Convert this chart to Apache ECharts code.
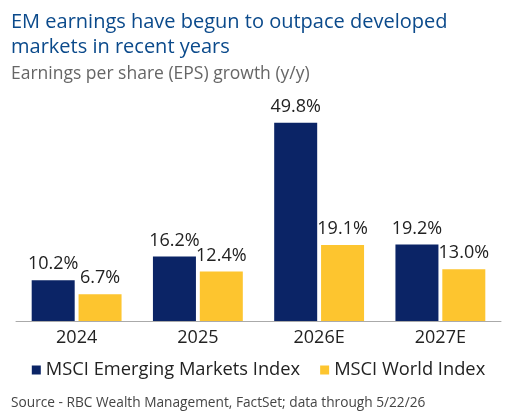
<!DOCTYPE html>
<html><head><meta charset="utf-8">
<script src="https://cdn.jsdelivr.net/npm/echarts@6/dist/echarts.min.js"></script>
<style>html,body{margin:0;padding:0;background:#fff}#c{width:517px;height:415px}</style>
</head><body><div id="c"></div>
<script>
const categories = ['2024', '2025', '2026E', '2027E'];
const emValues = [10.2, 16.2, 49.8, 19.2];
const worldValues = [6.7, 12.4, 19.1, 13.0];
const seriesNames = ['MSCI Emerging Markets Index', 'MSCI World Index'];
const titleText = 'EM earnings have begun to outpace developed\nmarkets in recent years';
const subtitleText = 'Earnings per share (EPS) growth (y/y)';
const sourceText = 'Source - RBC Wealth Management, FactSet; data through 5/22/26';

const FONT = 'Open Sans';
const chart = echarts.init(document.getElementById('c'), null, {renderer: 'canvas'});
const labelCfg = {
  show: true, position: 'top', distance: 7,
  formatter: p => p.value.toFixed(1) + '%',
  color: '#222', fontSize: 18, fontFamily: FONT
};
chart.setOption({
  animation: false,
  textStyle: {fontFamily: FONT},
  title: [
    {text: titleText, left: 11, top: 10, padding: 0,
     textStyle: {color: '#0b4a8b', fontSize: 20, fontWeight: 'normal', fontFamily: FONT, lineHeight: 25}},
    {text: subtitleText, left: 11, top: 65, padding: 0,
     textStyle: {color: '#666', fontSize: 17.5, fontWeight: 'normal', fontFamily: FONT}},
    {text: sourceText, left: 11, top: 396, padding: 0,
     textStyle: {color: '#444', fontSize: 13.7, fontWeight: 'normal', fontFamily: FONT}}
  ],
  legend: {
    data: seriesNames, left: 'center', top: 356,
    icon: 'rect', itemWidth: 9, itemHeight: 9, itemGap: 20,
    textStyle: {color: '#222', fontSize: 18.3, fontFamily: FONT}
  },
  grid: {left: 16, right: 16, top: 82, bottom: 94, containLabel: false},
  xAxis: {
    type: 'category', data: categories,
    axisLine: {lineStyle: {color: '#aaa', width: 1}},
    axisTick: {show: false},
    axisLabel: {color: '#222', fontSize: 18, margin: 8, fontFamily: FONT}
  },
  yAxis: {type: 'value', min: 0, max: 60, show: false, splitLine: {show: false}},
  series: [
    {name: seriesNames[0], type: 'bar', data: emValues, barWidth: 43, barGap: '9%',
     itemStyle: {color: '#0b2466'}, label: labelCfg},
    {name: seriesNames[1], type: 'bar', data: worldValues, barWidth: 43,
     itemStyle: {color: '#fdc52f'}, label: labelCfg}
  ]
});
</script></body></html>
